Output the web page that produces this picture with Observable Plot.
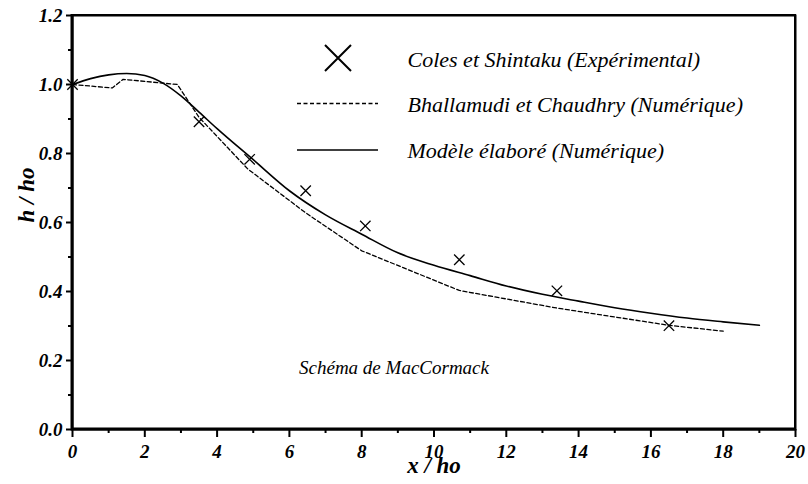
<!DOCTYPE html>
<html><head><meta charset="utf-8">
<script src="https://cdn.jsdelivr.net/npm/d3@7"></script>
<script src="https://cdn.jsdelivr.net/npm/@observablehq/plot@0.6"></script>
<style>
body{margin:0;background:#fff}
</style>
</head><body><div id="chart"></div>
<script>
// Experimental points (Coles et Shintaku)
const expX = [0, 3.5, 4.9, 6.45, 8.1, 10.7, 13.4, 16.5];
const expH = [1.0, 0.892, 0.783, 0.692, 0.59, 0.492, 0.402, 0.301];
// Bhallamudi et Chaudhry (numerical, dashed)
const bcX = [0, 1.1, 1.4, 2.9, 3.5, 4.85, 6.45, 8.0, 10.7, 13.4, 16.5, 18.0];
const bcH = [1.0, 0.99, 1.015, 1.0, 0.905, 0.755, 0.628, 0.518, 0.403, 0.352, 0.302, 0.285];
// Modèle élaboré (numerical, solid)
const modX = [0, 0.5, 1.0, 1.5, 2.0, 2.5, 3.0, 3.5, 4, 5, 6, 7, 8, 9, 10, 11, 12, 13, 14, 15, 16, 17, 18, 19];
const modH = [1.0, 1.017, 1.028, 1.032, 1.026, 1.004, 0.967, 0.92, 0.872, 0.782, 0.692, 0.622, 0.566, 0.512, 0.476, 0.446, 0.416, 0.392, 0.372, 0.353, 0.337, 0.323, 0.312, 0.302];
// Axis ticks
const xTicks = [0, 2, 4, 6, 8, 10, 12, 14, 16, 18, 20];
const xMinor = [1, 3, 5, 7, 9, 11, 13, 15, 17, 19];
const yTicks = [0, 0.2, 0.4, 0.6, 0.8, 1.0, 1.2];
const yMinor = [0.1, 0.3, 0.5, 0.7, 0.9, 1.1];
// Texts
const xLabel = "x / ho";
const yLabel = "h / ho";
const note = "Schéma de MacCormack";
const legendLabels = ["Coles et Shintaku (Expérimental)", "Bhallamudi et Chaudhry (Numérique)", "Modèle élaboré (Numérique)"];

const exp = expX.map((x, i) => ({x, h: expH[i]}));
const bc = bcX.map((x, i) => ({x, h: bcH[i]}));
const mod = modX.map((x, i) => ({x, h: modH[i]}));

const serif = "'Liberation Serif', 'Times New Roman', 'DejaVu Serif', 'Noto Serif', serif";
const tickFont = {fontFamily: serif, fontStyle: "italic", fontWeight: "bold", fontSize: 19, fill: "black"};
const legFont = {fontFamily: serif, fontStyle: "italic", fontSize: 22, fill: "black", textAnchor: "start", lineAnchor: "middle", frameAnchor: "top-left", dx: 335};
const dash = "4,2.5";

// legend swatches (layout only: pixel offsets from the frame's top-left corner)
function legendSwatches(index, scales, values, dims) {
  const g = d3.create("svg:g").attr("transform", `translate(${dims.marginLeft},${dims.marginTop})`).attr("stroke", "black").attr("fill", "none");
  g.append("path").attr("d", "M253,30L279,56M279,30L253,56").attr("stroke-width", 2);
  g.append("line").attr("x1", 225).attr("x2", 306).attr("y1", 88.5).attr("y2", 88.5).attr("stroke-width", 1.3).attr("stroke-dasharray", dash);
  g.append("line").attr("x1", 225).attr("x2", 306).attr("y1", 135).attr("y2", 135).attr("stroke-width", 1.6);
  return g.node();
}
// plot-area border, drawn last so that nothing covers it
function border(index, scales, values, dims) {
  const l = dims.marginLeft, t = dims.marginTop, r = dims.width - dims.marginRight, b = dims.height - dims.marginBottom;
  const g = d3.create("svg:g").attr("transform", "translate(0,0)").attr("stroke", "black").attr("fill", "none");
  g.append("path").attr("d", `M${l},${t}H${r}V${b}`).attr("stroke-width", 2);
  g.append("path").attr("d", `M${l},${t - 1}V${b}H${r + 1}`).attr("stroke-width", 3);
  return g.node();
}

const chart = Plot.plot({
  width: 808, height: 484,
  marginLeft: 72, marginRight: 13, marginTop: 15, marginBottom: 55,
  x: {domain: [0, 20]},
  y: {domain: [0, 1.2]},
  marks: [
    Plot.frame({stroke: "black", strokeWidth: 2}),
    Plot.axisX({ticks: xTicks, tickSize: 8, stroke: "black", strokeWidth: 2, tickPadding: 7, tickFormat: d => String(d), label: null, ...tickFont}),
    Plot.axisX({ticks: xMinor, tickSize: 4, stroke: "black", strokeWidth: 2, tickFormat: () => "", label: null}),
    Plot.axisY({ticks: yTicks, tickSize: 6, stroke: "black", strokeWidth: 2, tickPadding: 4, tickFormat: d => d.toFixed(1), label: null, ...tickFont}),
    Plot.axisY({ticks: yMinor, tickSize: 4, stroke: "black", strokeWidth: 2, tickFormat: () => "", label: null}),
    Plot.line(bc, {x: "x", y: "h", stroke: "black", strokeWidth: 1.3, strokeDasharray: dash}),
    Plot.line(mod, {x: "x", y: "h", stroke: "black", strokeWidth: 1.6, curve: "monotone-x"}),
    Plot.dot(exp, {x: "x", y: "h", symbol: "times", r: 4.8, stroke: "black", strokeWidth: 1.3}),
    Plot.text([xLabel], {frameAnchor: "bottom", dy: 43, fontFamily: serif, fontStyle: "italic", fontWeight: "bold", fontSize: 23, fill: "black"}),
    Plot.text([yLabel], {frameAnchor: "left", dx: -46, rotate: -90, fontFamily: serif, fontStyle: "italic", fontWeight: "bold", fontSize: 23, fill: "black"}),
    Plot.text([note], {frameAnchor: "bottom", dx: -40, dy: -56, fontFamily: serif, fontStyle: "italic", fontSize: 19, fill: "black"}),
    Plot.text([legendLabels[0]], {...legFont, dy: 44}),
    Plot.text([legendLabels[1]], {...legFont, dy: 89}),
    Plot.text([legendLabels[2]], {...legFont, dy: 135}),
    legendSwatches,
    border
  ]
});
document.getElementById("chart").appendChild(chart);
</script>
</body></html>
